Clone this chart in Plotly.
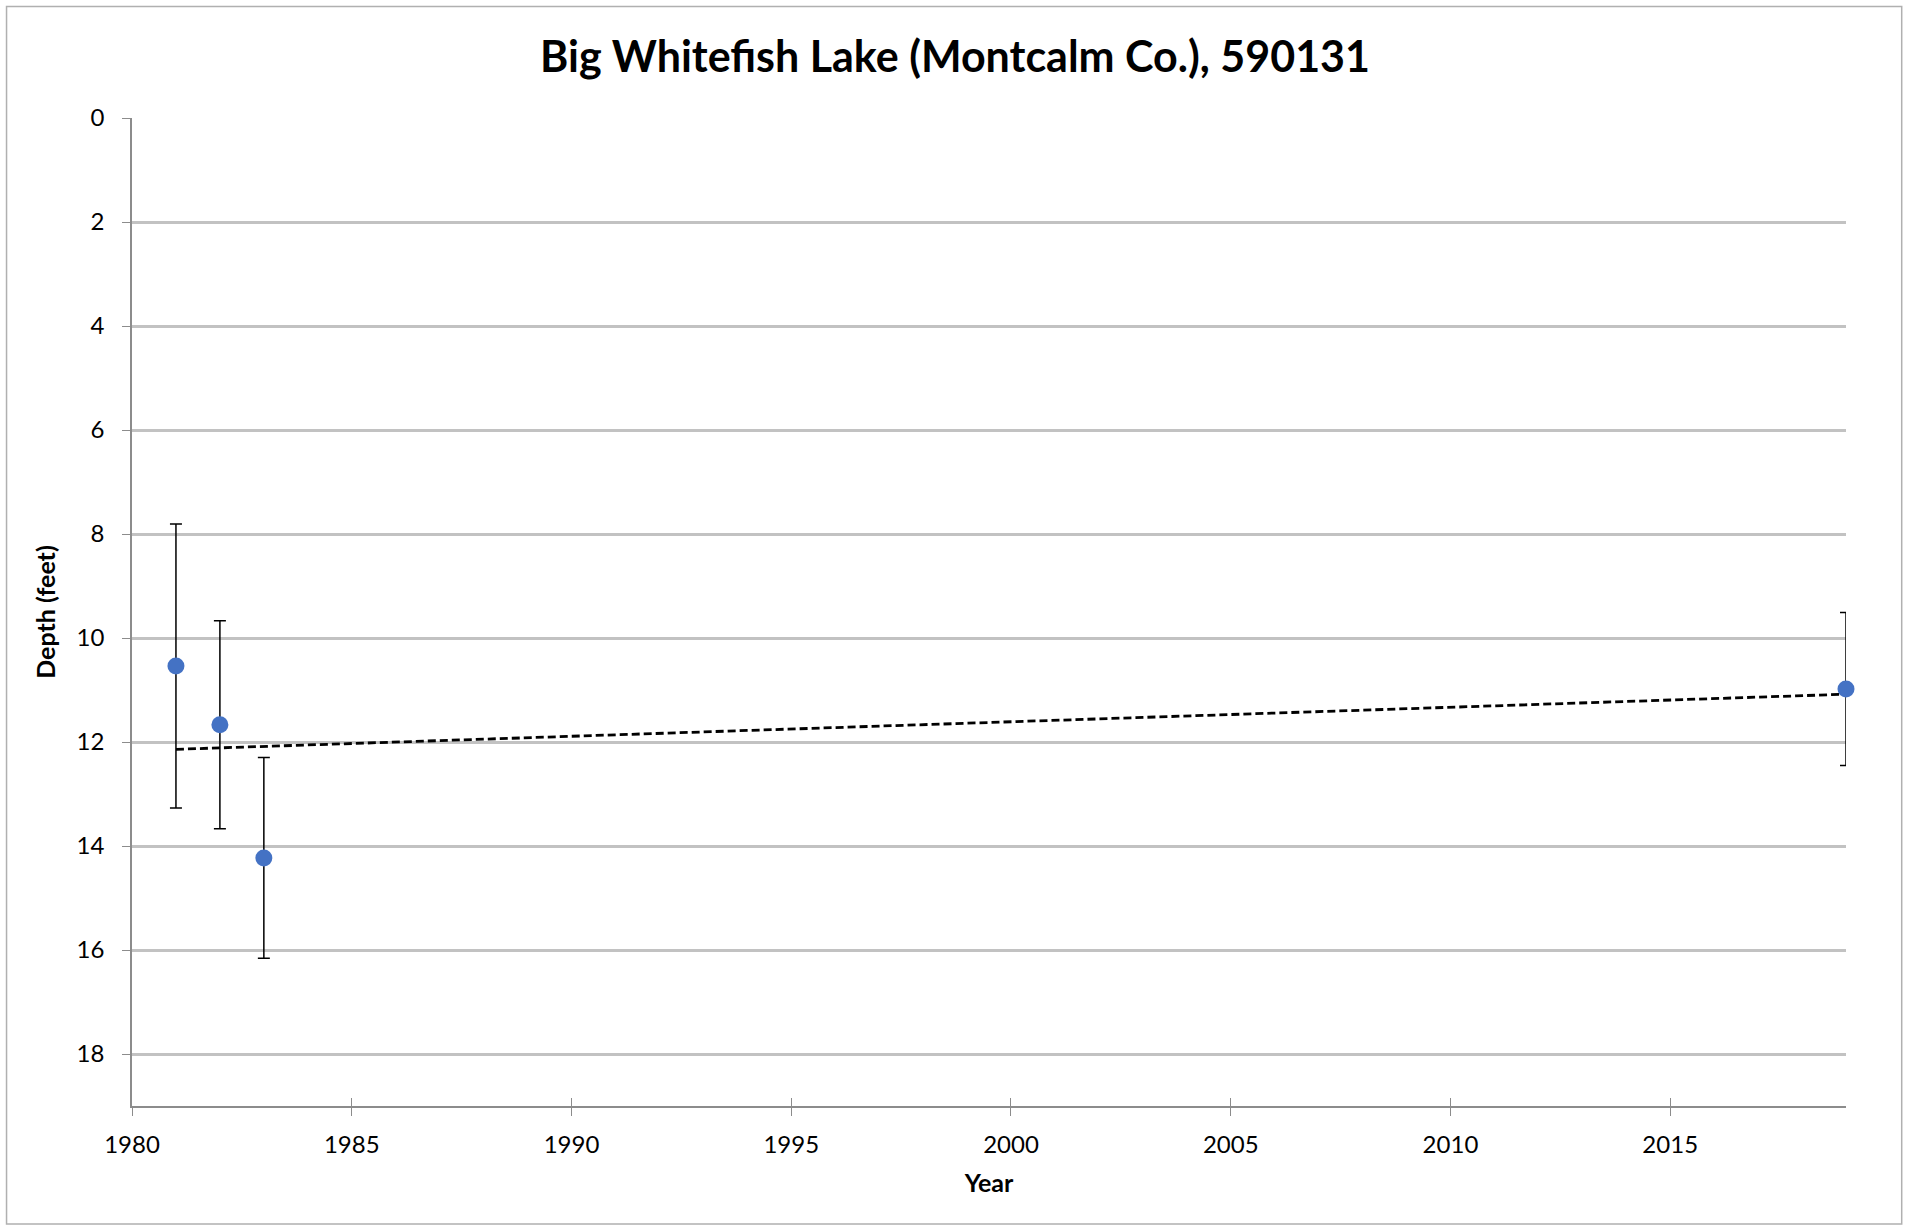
import numpy as np
import plotly.graph_objects as go

# ---- data ----
years = [1981, 1982, 1983, 2019]
depth = [10.54, 11.67, 14.23, 10.98]
depth_err = [2.73, 2.00, 1.93, 1.47]

x_ticks = [1980, 1985, 1990, 1995, 2000, 2005, 2010, 2015]
y_ticks = [0, 2, 4, 6, 8, 10, 12, 14, 16, 18]

title_text = "Big Whitefish Lake (Montcalm Co.), 590131"
x_title = "Year"
y_title = "Depth (feet)"

# linear trendline through the points
slope, intercept = np.polyfit(years, depth, 1)
trend_x = [min(years), max(years)]
trend_y = [slope * v + intercept for v in trend_x]

FONT = "Lato"
AXIS_GREY = "#8c8c8c"
GRID_GREY = "#c2c2c2"

fig = go.Figure()

fig.add_trace(go.Scatter(
    x=trend_x, y=trend_y, mode="lines",
    line=dict(color="black", width=2.8, dash="8px,4px"),
    hoverinfo="skip", showlegend=False, cliponaxis=False,
))

fig.add_trace(go.Scatter(
    x=years, y=depth, mode="markers",
    marker=dict(color="#4472C4", size=17),
    error_y=dict(type="data", array=depth_err, symmetric=True,
                 color="black", thickness=1.5, width=6),
    showlegend=False, cliponaxis=False,
))

# helper trace for the inner half of the crossing x ticks
fig.add_trace(go.Scatter(x=[], y=[], xaxis="x2", yaxis="y",
                         showlegend=False, hoverinfo="skip"))

fig.update_layout(
    width=1910, height=1225,
    margin=dict(l=132, r=64, t=118, b=119),
    paper_bgcolor="white", plot_bgcolor="white",
    font=dict(family=FONT, color="#000000"),
    title=dict(text="<b>" + title_text + "</b>", xref="container", x=0.5,
               xanchor="center", y=0.9535, yanchor="middle",
               font=dict(family=FONT, size=43, color="black")),
    xaxis=dict(range=[1980, 2019], tickvals=x_ticks, showgrid=False,
               zeroline=False, showline=True, linecolor=AXIS_GREY,
               linewidth=1.5, ticks="outside", ticklen=8,
               tickcolor=AXIS_GREY, tickwidth=1,
               tickfont=dict(size=24, family=FONT), ticklabelstandoff=8,
               title=dict(text="<b>" + x_title + "</b>",
                          font=dict(size=25, family=FONT), standoff=18)),
    xaxis2=dict(range=[1980, 2019], tickvals=x_ticks, overlaying="x",
                anchor="y", side="bottom", showgrid=False, zeroline=False,
                showline=False, ticks="inside", ticklen=8,
                tickcolor=AXIS_GREY, tickwidth=1, showticklabels=False),
    yaxis=dict(range=[19, 0], tickvals=y_ticks, showgrid=True,
               gridcolor=GRID_GREY, gridwidth=2.5, zeroline=False,
               showline=True, linecolor=AXIS_GREY, linewidth=1.5,
               ticks="outside", ticklen=8, tickcolor=AXIS_GREY,
               tickfont=dict(size=24, family=FONT), ticklabelstandoff=13,
               title=dict(text="<b>" + y_title + "</b>",
                          font=dict(size=25, family=FONT), standoff=14)),
    shapes=[dict(type="rect", xref="paper", yref="paper",
                 x0=-0.0732, x1=1.0325, y0=-0.1194, y1=1.1129,
                 line=dict(color="#b0b0b0", width=1.5), layer="below")],
)

fig.write_html("out.html",
               config={"displayModeBar": False},
               post_script="document.body.style.margin='0';"
                           "document.body.style.padding='0';")
